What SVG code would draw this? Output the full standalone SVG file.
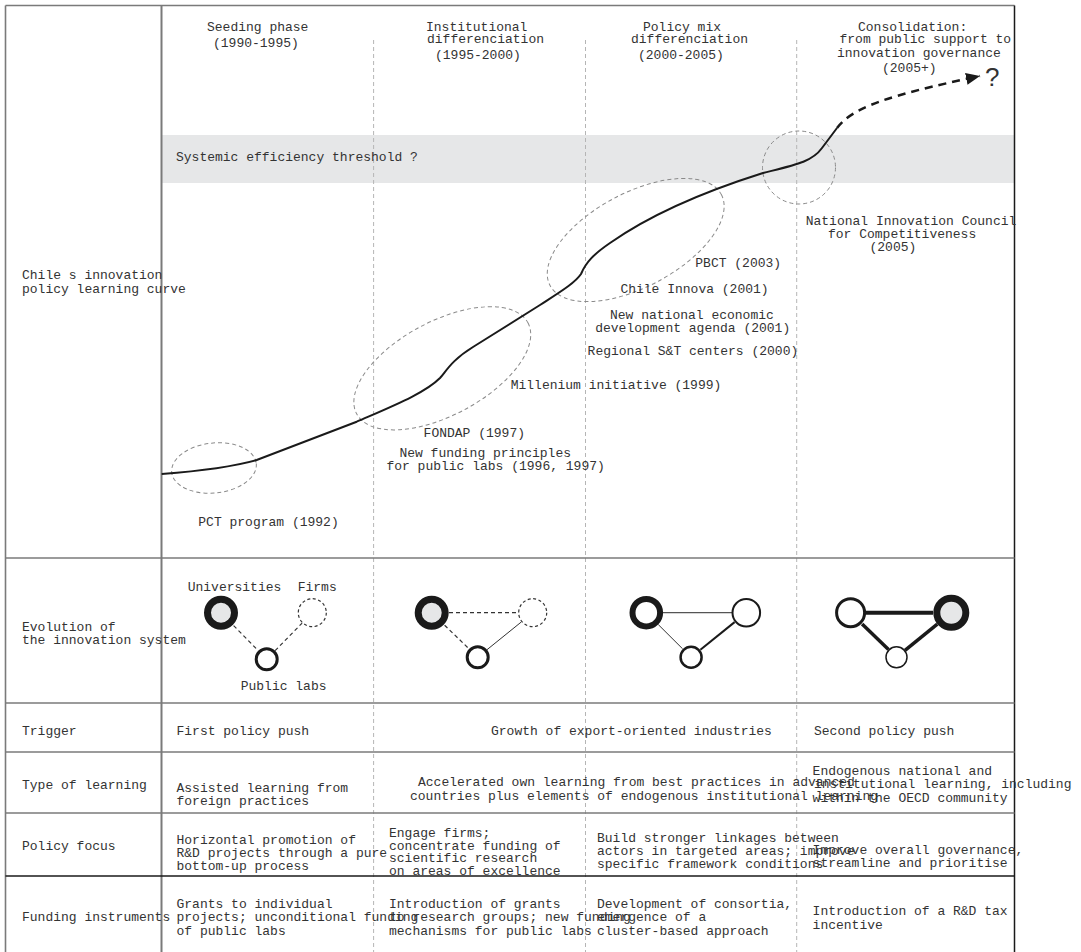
<svg xmlns="http://www.w3.org/2000/svg" width="1081" height="952" viewBox="0 0 1081 952">
<style>
.t{font-family:"Liberation Mono","Courier New",monospace;font-size:13px;fill:#333}
.grid{stroke:#7a7a7a;stroke-width:1.6;fill:none}
.vd{stroke:#b5b5b5;stroke-width:1;stroke-dasharray:4 3;fill:none}
.ell{stroke:#8a8a8a;stroke-width:1;stroke-dasharray:4 3;fill:none}
.ring{stroke:#1a1a1a;fill:#fff}
.hub{stroke:#1a1a1a;stroke-width:7;fill:#e6e7e8}
.weak{stroke:#333;stroke-width:1.2;stroke-dasharray:3 2.5;fill:#fff}
.dl{stroke:#333;stroke-width:1.2;stroke-dasharray:4 3;fill:none}
</style>
<defs>
<marker id="ah" markerUnits="userSpaceOnUse" markerWidth="16" markerHeight="12" refX="14" refY="6" orient="auto">
<path d="M0,0 L14,6 L0,12 Z" fill="#1a1a1a"/>
</marker>
</defs>
<rect width="1081" height="952" fill="#fff"/>
<!-- band -->
<rect x="162" y="135" width="852" height="48" fill="#e6e7e8"/>
<!-- dashed phase separators -->
<g id="separators">
<line class="vd" x1="373.6" y1="40" x2="373.6" y2="952"/>
<line class="vd" x1="585.5" y1="40" x2="585.5" y2="952"/>
<line class="vd" x1="796.7" y1="40" x2="796.7" y2="952"/>
</g>
<!-- grid -->
<g id="grid">
<line class="grid" x1="5.5" y1="5.5" x2="1014.5" y2="5.5"/>
<line class="grid" x1="5.5" y1="5.5" x2="5.5" y2="952"/>
<line class="grid" x1="161.5" y1="5.5" x2="161.5" y2="952" style="stroke-width:2"/>
<line x1="1014.5" y1="5.5" x2="1014.5" y2="952" stroke="#1a1a1a" stroke-width="1.5"/>
<line class="grid" x1="5.5" y1="558" x2="1014.5" y2="558"/>
<line class="grid" x1="5.5" y1="703" x2="1014.5" y2="703"/>
<line class="grid" x1="5.5" y1="752" x2="1014.5" y2="752"/>
<line class="grid" x1="5.5" y1="813" x2="1014.5" y2="813"/>
<line x1="5.5" y1="876" x2="1014.5" y2="876" stroke="#1a1a1a" stroke-width="1.3"/>
</g>
<!-- headers -->
<g id="headers">
<text class="t" x="207" y="30.5">Seeding phase</text>
<text class="t" x="213" y="47">(1990-1995)</text>
<text class="t" x="426" y="30.5">Institutional</text>
<text class="t" x="427" y="43">differenciation</text>
<text class="t" x="435" y="58.5">(1995-2000)</text>
<text class="t" x="643" y="30.5">Policy mix</text>
<text class="t" x="631" y="43">differenciation</text>
<text class="t" x="638" y="58.5">(2000-2005)</text>
<text class="t" x="858" y="30.5">Consolidation:</text>
<text class="t" x="839.5" y="43">from public support to</text>
<text class="t" x="837" y="57">innovation governance</text>
<text class="t" x="882" y="71.5">(2005+)</text>
</g>
<text class="t" x="176" y="160.5">Systemic efficiency threshold ?</text>
<text class="t" x="22" y="278.5">Chile s innovation</text>
<text class="t" x="22" y="292.5">policy learning curve</text>
<!-- ellipses -->
<g id="clusters">
<ellipse class="ell" cx="214" cy="468" rx="42.5" ry="25" transform="rotate(-6 214 468)"/>
<ellipse class="ell" cx="442.3" cy="368.3" rx="97" ry="47" transform="rotate(-28 442.3 368.3)"/>
<ellipse class="ell" cx="635.7" cy="240" rx="97" ry="47" transform="rotate(-28 635.7 240)"/>
<circle class="ell" cx="799" cy="167.5" r="36.5"/>
</g>
<!-- learning curve -->
<g id="curve">
<path d="M161.7,474 C200,471 232,467 256.7,460 L356.7,421.7 C395,405 425,393 440,378 C447,370 452,360 473,347 L540,305 C560,292 575,283 581,274 C586,262 594,254 610,243 C640,222 690,196 763,173 C795,165 812,162 822,148 L837,128" fill="none" stroke="#1a1a1a" stroke-width="2"/>
<path d="M837,128 C852,108 885,96 980,76" fill="none" stroke="#1a1a1a" stroke-width="2.5" stroke-dasharray="8 6" marker-end="url(#ah)"/>
<text x="985" y="86" font-family="'Liberation Sans',Arial,sans-serif" font-size="26" fill="#333">?</text>
</g>
<!-- event labels -->
<g id="events">
<text class="t" x="805.7" y="224.5">National Innovation Council</text>
<text class="t" x="828" y="238">for Competitiveness</text>
<text class="t" x="869.5" y="250.5">(2005)</text>
<text class="t" x="695.3" y="267">PBCT (2003)</text>
<text class="t" x="620.4" y="293">Chile Innova (2001)</text>
<text class="t" x="610" y="319">New national economic</text>
<text class="t" x="595.2" y="332">development agenda (2001)</text>
<text class="t" x="587.6" y="354.5">Regional S&amp;T centers (2000)</text>
<text class="t" x="510.7" y="389">Millenium initiative (1999)</text>
<text class="t" x="423.6" y="437">FONDAP (1997)</text>
<text class="t" x="399.4" y="457">New funding principles</text>
<text class="t" x="386.4" y="470">for public labs (1996, 1997)</text>
<text class="t" x="198.3" y="525.5">PCT program (1992)</text>
</g>
<!-- evolution row -->
<text class="t" x="22" y="631">Evolution of</text>
<text class="t" x="22" y="644">the innovation system</text>
<text class="t" x="187.7" y="590.5">Universities</text>
<text class="t" x="297.7" y="590.5">Firms</text>
<text class="t" x="240.7" y="690">Public labs</text>
<g id="connectors">
<line class="dl" x1="233.6" y1="625.6" x2="258.3" y2="650.7"/>
<line class="dl" x1="275.1" y1="650.7" x2="302.1" y2="623.1"/>
<line class="dl" x1="449" y1="612.7" x2="518" y2="612.7"/>
<line class="dl" x1="444.6" y1="625.2" x2="469.1" y2="648.9"/>
<line x1="487" y1="649.7" x2="521.4" y2="621.9" stroke="#333" stroke-width="1"/>
<line x1="663" y1="612.7" x2="732.6" y2="612.7" stroke="#555" stroke-width="1.3"/>
<line x1="658.3" y1="624.6" x2="682.6" y2="648.8" stroke="#333" stroke-width="1"/>
<line x1="700.4" y1="649.8" x2="734.6" y2="622.1" stroke="#1a1a1a" stroke-width="2"/>
<line x1="865" y1="612.7" x2="933" y2="612.7" stroke="#1a1a1a" stroke-width="4"/>
<line x1="862.1" y1="623.9" x2="888.5" y2="649.5" stroke="#1a1a1a" stroke-width="3.5"/>
<line x1="905" y1="650.4" x2="937.3" y2="624.1" stroke="#1a1a1a" stroke-width="3.5"/>
</g>
<g id="p1-universities"><circle class="hub" cx="221" cy="612.7" r="13.5"/></g>
<g id="p1-firms"><circle class="weak" cx="312.3" cy="612.7" r="14"/></g>
<g id="p1-labs"><circle class="ring" cx="266.7" cy="659.3" r="10.5" stroke-width="3"/></g>
<g id="p2-universities"><circle class="hub" cx="431.7" cy="612.7" r="13.5"/></g>
<g id="p2-firms"><circle class="weak" cx="532.7" cy="612.7" r="14"/></g>
<g id="p2-labs"><circle class="ring" cx="477.7" cy="657.3" r="10.5" stroke-width="3"/></g>
<g id="p3-universities"><circle class="ring" cx="646.3" cy="612.7" r="13.8" stroke-width="6"/></g>
<g id="p3-firms"><circle class="ring" cx="746.3" cy="612.7" r="13.8" stroke-width="2"/></g>
<g id="p3-labs"><circle class="ring" cx="691.1" cy="657.3" r="10.5" stroke-width="2.5"/></g>
<g id="p4-universities"><circle class="ring" cx="850.6" cy="612.7" r="14" stroke-width="3"/></g>
<g id="p4-firms"><circle class="hub" cx="951.3" cy="612.7" r="14.5"/></g>
<g id="p4-labs"><circle class="ring" cx="896.5" cy="657.3" r="10.5" stroke-width="1.5"/></g>
<!-- table rows -->
<g id="trigger">
<text class="t" x="22" y="734.5">Trigger</text>
<text class="t" x="176.5" y="734.5">First policy push</text>
<text class="t" x="491" y="734.5">Growth of export-oriented industries</text>
<text class="t" x="814" y="734.5">Second policy push</text>
</g>
<g id="learning">
<text class="t" x="22" y="788.5">Type of learning</text>
<text class="t" x="176.5" y="791.5">Assisted learning from</text>
<text class="t" x="176.5" y="805">foreign practices</text>
<text class="t" x="418" y="786">Accelerated own learning from best practices in advanced</text>
<text class="t" x="410" y="799.5">countries plus elements of endogenous institutional learning</text>
<text class="t" x="812.6" y="774.5">Endogenous national and</text>
<text class="t" x="814" y="788">institutional learning, including</text>
<text class="t" x="812.6" y="801.5">within the OECD community</text>
</g>
<g id="policy">
<text class="t" x="22" y="849.5">Policy focus</text>
<text class="t" x="176.5" y="843.5">Horizontal promotion of</text>
<text class="t" x="176.5" y="856.5">R&amp;D projects through a pure</text>
<text class="t" x="176.5" y="870">bottom-up process</text>
<text class="t" x="389" y="837">Engage firms;</text>
<text class="t" x="389" y="850">concentrate funding of</text>
<text class="t" x="389" y="862">scientific research</text>
<text class="t" x="389" y="874.5">on areas of excellence</text>
<text class="t" x="597" y="842">Build stronger linkages between</text>
<text class="t" x="597" y="855">actors in targeted areas; improve</text>
<text class="t" x="597" y="868">specific framework conditions</text>
<text class="t" x="812.6" y="853.5">Improve overall governance,</text>
<text class="t" x="812.6" y="866.5">streamline and prioritise</text>
</g>
<g id="funding">
<text class="t" x="22" y="921">Funding instruments</text>
<text class="t" x="176.5" y="908">Grants to individual</text>
<text class="t" x="176.5" y="921">projects; unconditional funding</text>
<text class="t" x="176.5" y="935">of public labs</text>
<text class="t" x="389" y="908">Introduction of grants</text>
<text class="t" x="389" y="921">to research groups; new funding</text>
<text class="t" x="389" y="935">mechanisms for public labs</text>
<text class="t" x="597" y="908">Development of consortia,</text>
<text class="t" x="597" y="921">emergence of a</text>
<text class="t" x="597" y="935">cluster-based approach</text>
<text class="t" x="812.6" y="915">Introduction of a R&amp;D tax</text>
<text class="t" x="812.6" y="929">incentive</text>
</g>
</svg>
